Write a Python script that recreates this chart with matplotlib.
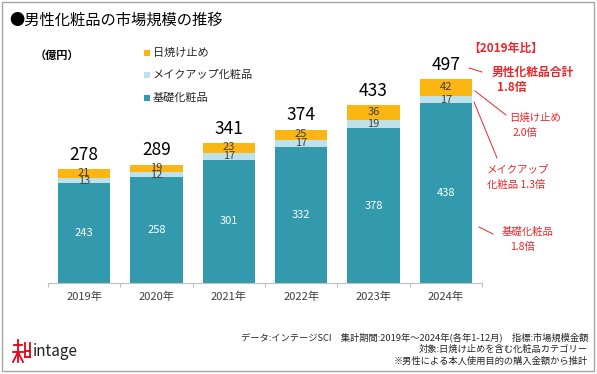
import matplotlib
matplotlib.use("Agg")
import matplotlib.pyplot as plt
from matplotlib.patches import Rectangle
from matplotlib.lines import Line2D

plt.rcParams['font.family'] = ['Noto Sans CJK JP', 'DejaVu Sans']

years = ['2019年', '2020年', '2021年', '2022年', '2023年', '2024年']
base = [243, 258, 301, 332, 378, 438]
makeup = [13, 12, 17, 17, 19, 17]
sun = [21, 19, 23, 25, 36, 42]
totals = [278, 289, 341, 374, 433, 497]
series_names = ['日焼け止め', 'メイクアップ化粧品', '基礎化粧品']

C_BASE = '#3399ad'
C_MAKE = '#bfe2ea'
C_SUN = '#fbb614'
RED = '#e8262b'

W, H = 597, 374
fig = plt.figure(figsize=(W / 100, H / 100), dpi=100)

def fx(x):
    return x / W

def fy(y):
    return 1 - y / H

# axes: x from 48 to 482 px, baseline at y=283, top at y=40
ax = fig.add_axes([fx(48), fy(283), (482 - 48) / W, (283 - 40) / H])
x = list(range(len(years)))
bw = 0.72
ax.bar(x, base, width=bw, color=C_BASE, zorder=2)
bottom2 = [b for b in base]
ax.bar(x, makeup, width=bw, bottom=bottom2, color=C_MAKE, zorder=2)
bottom3 = [b + m for b, m in zip(base, makeup)]
ax.bar(x, sun, width=bw, bottom=bottom3, color=C_SUN, zorder=2)

ax.set_xlim(-0.5, len(years) - 0.5)
ax.set_ylim(0, 243 / 0.41)
ax.set_yticks([])
for s in ['top', 'right', 'left']:
    ax.spines[s].set_visible(False)
ax.spines['bottom'].set_color('#bfbfbf')
ax.spines['bottom'].set_linewidth(0.8)
ax.set_xticks(x)
ax.set_xticklabels(years, fontsize=8, color='#404040')
ax.tick_params(axis='x', which='major', length=0, pad=6)
ax.set_xticks([i - 0.5 for i in range(len(years) + 1)], minor=True)
ax.tick_params(axis='x', which='minor', length=3, color='#bfbfbf', width=0.8)

for i in x:
    ax.text(i, base[i] / 2, str(base[i]), ha='center', va='center',
            color='white', fontsize=8, zorder=3)
    ax.text(i, base[i] + makeup[i] / 2, str(makeup[i]), ha='center', va='center',
            color='#404040', fontsize=8, zorder=3)
    ax.text(i, bottom3[i] + sun[i] / 2 + 1, str(sun[i]), ha='center', va='center',
            color='#404040', fontsize=8, zorder=3)
    top = bottom3[i] + sun[i]
    ax.annotate(str(totals[i]), (i, top), xytext=(0, 4), textcoords='offset points',
                ha='center', va='bottom', fontsize=12.5, color='black', zorder=3)

# title
fig.text(fx(9), fy(20), '●男性化粧品の市場規模の推移', fontsize=11, va='center', ha='left')
fig.text(fx(35), fy(55), '（億円）', fontsize=8, fontweight='bold', va='center', ha='left')

# legend
leg_colors = [C_SUN, C_MAKE, C_BASE]
leg_y = [53, 75, 98]
for name, c, yy in zip(series_names, leg_colors, leg_y):
    fig.patches.append(Rectangle((fx(144), fy(yy + 3)), 6 / W, 6 / H, transform=fig.transFigure,
                                 facecolor=c, edgecolor='none'))
    fig.text(fx(153), fy(yy), name, fontsize=8, va='center', ha='left', color='#262626')

# red annotations
fig.text(fx(506), fy(48), '【2019年比】', fontsize=8.5, fontweight='bold', color=RED,
         ha='center', va='center')
fig.text(fx(492), fy(72), '男性化粧品合計', fontsize=8.5, fontweight='bold', color=RED,
         ha='left', va='center')
fig.text(fx(497), fy(87), '1.8倍', fontsize=8.5, fontweight='bold', color=RED,
         ha='left', va='center')
fig.text(fx(509), fy(118), '日焼け止め', fontsize=7.5, color=RED, ha='left', va='center')
fig.text(fx(513), fy(133), '2.0倍', fontsize=7.5, color=RED, ha='left', va='center')
fig.text(fx(487), fy(169), 'メイクアップ', fontsize=7.5, color=RED, ha='left', va='center')
fig.text(fx(487), fy(185), '化粧品 1.3倍', fontsize=7.5, color=RED, ha='left', va='center')
fig.text(fx(502), fy(232), '基礎化粧品', fontsize=7.5, color=RED, ha='left', va='center')
fig.text(fx(510), fy(247), '1.8倍', fontsize=7.5, color=RED, ha='left', va='center')

for (x0, y0, x1, y1) in [(469, 68, 482, 72), (475, 91, 506, 115),
                         (474, 102, 497, 158), (479, 227, 493, 234)]:
    fig.add_artist(Line2D([fx(x0), fx(x1)], [fy(y0), fy(y1)], transform=fig.transFigure,
                          color=RED, lw=0.7))

# footer
fig.text(fx(588), fy(337), 'データ:インテージSCI　集計期間:2019年～2024年(各年1-12月)　指標:市場規模金額',
         fontsize=6.7, ha='right', va='center', color='#262626')
fig.text(fx(588), fy(349), '対象:日焼け止めを含む化粧品カテゴリー',
         fontsize=6.7, ha='right', va='center', color='#262626')
fig.text(fx(588), fy(361), '※男性による本人使用目的の購入金額から推計',
         fontsize=6.7, ha='right', va='center', color='#262626')

# logo
for (x0, y0, x1, y1) in [(14, 345, 22, 345), (18, 340, 18, 362), (13, 352, 23, 352),
                         (18, 352, 13, 362), (18, 352, 23, 362), (25, 343, 25, 357),
                         (30, 343, 30, 357), (25, 351, 30, 351), (25, 357, 30, 357)]:
    fig.add_artist(Line2D([fx(x0), fx(x1)], [fy(y0), fy(y1)], transform=fig.transFigure,
                          color='#e60012', lw=1.3))
fig.text(fx(33), fy(351), 'intage', fontsize=11, ha='left', va='center', color='#222222')

# border
fig.patches.append(Rectangle((fx(2), fy(371)), (594 - 2) / W, (371 - 2) / H,
                             transform=fig.transFigure, facecolor='none',
                             edgecolor='#a6a6a6', lw=1))

fig.savefig('out.png', dpi=100)
